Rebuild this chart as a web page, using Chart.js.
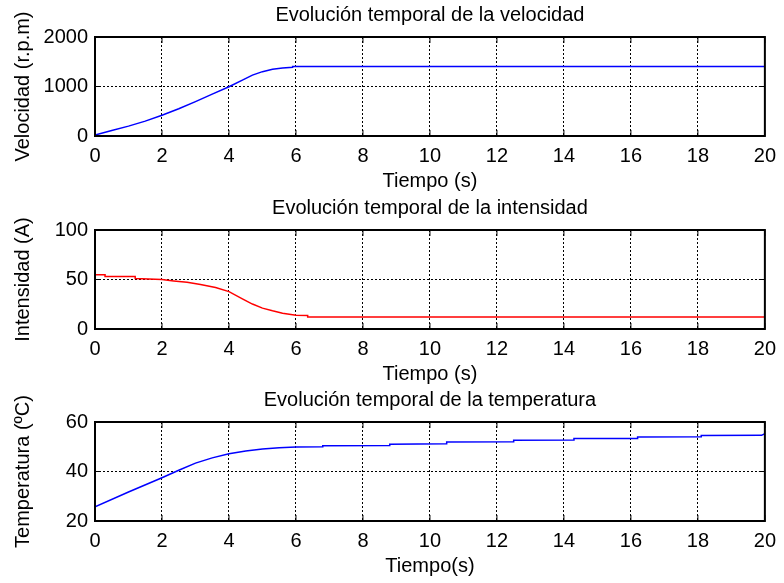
<!DOCTYPE html>
<html lang="es">
<head>
    <meta charset="UTF-8">
    <title>Evolución temporal</title>
    <script src="https://cdn.jsdelivr.net/npm/chart.js"></script>
    <style>
        body { margin: 0; background: #fff; }
        .plot { position: absolute; left: 0; }
    </style>
</head>
<body>
    <canvas id="velChart" class="plot" width="784" height="193" style="top:0px"></canvas>
    <canvas id="intChart" class="plot" width="784" height="193" style="top:193px"></canvas>
    <canvas id="tempChart" class="plot" width="784" height="193" style="top:385px"></canvas>

    <script>
        // Velocidad (r.p.m)
        const velTime   = [0, 0.5, 1, 1.5, 2, 2.5, 3, 3.5, 4, 4.4, 4.7, 5, 5.3, 5.6, 5.9, 5.9, 20];
        const velValues = [20, 110, 200, 300, 420, 550, 695, 845, 995, 1130, 1230, 1300, 1347, 1375, 1390, 1405, 1405];

        // Intensidad (A)
        const intTime   = [0, 0.3, 0.3, 1.2, 1.2, 2, 2.35, 2.75, 3.15, 3.6, 4, 4.4, 4.7, 5, 5.3, 5.6, 6, 6.35, 6.35, 20];
        const intValues = [54.8, 54.8, 53, 53, 51, 50, 48.6, 47.3, 45, 42, 37.8, 30.5, 25.2, 21.1, 18.4, 16, 14, 13.6, 12.2, 12.2];

        // Temperatura (ºC)
        const tempTime   = [0, 1, 2, 2.5, 3, 3.5, 4, 4.5, 5, 5.5, 6, 6.8, 6.8, 8.8, 8.8, 10.5, 10.5, 12.5, 12.5, 14.3, 14.3, 16.2, 16.2, 18.1, 18.1, 19.9, 20];
        const tempValues = [25.7, 31.7, 37.5, 40.5, 43.4, 45.5, 47.2, 48.3, 49.1, 49.6, 49.9, 50.0, 50.4, 50.5, 51.0, 51.2, 51.9, 52.0, 52.6, 52.7, 53.3, 53.3, 53.9, 54.0, 54.5, 54.6, 55.3];

        const font = { family: '"Liberation Sans", Arial, sans-serif', size: 20, weight: 'normal' };

        // frame with inward ticks, like the original figure
        const axesBox = {
            id: 'axesBox',
            afterDraw(chart) {
                const { ctx, chartArea: a, scales } = chart;
                ctx.save();
                ctx.strokeStyle = '#000';
                ctx.setLineDash([]);
                ctx.lineWidth = 1;
                ctx.beginPath();
                scales.x.ticks.forEach(t => {
                    const px = scales.x.getPixelForValue(t.value);
                    ctx.moveTo(px, a.bottom); ctx.lineTo(px, a.bottom - 6);
                    ctx.moveTo(px, a.top); ctx.lineTo(px, a.top + 6);
                });
                scales.y.ticks.forEach(t => {
                    const py = scales.y.getPixelForValue(t.value);
                    ctx.moveTo(a.left, py); ctx.lineTo(a.left + 6, py);
                    ctx.moveTo(a.right, py); ctx.lineTo(a.right - 6, py);
                });
                ctx.stroke();
                ctx.lineWidth = 2;
                ctx.strokeRect(a.left, a.top, a.width, a.height);
                ctx.restore();
            }
        };

        function makeChart(id, title, yTitle, xTitle, times, values, color, yMin, yMax, yStep) {
            const points = times.map((t, i) => ({ x: t, y: values[i] }));
            return new Chart(document.getElementById(id), {
                type: 'line',
                data: {
                    datasets: [{
                        data: points,
                        borderColor: color,
                        borderWidth: 1.5,
                        pointRadius: 0,
                        tension: 0
                    }]
                },
                options: {
                    responsive: false,
                    animation: false,
                    layout: { padding: { left: 0, right: 16, top: 0, bottom: 0 } },
                    plugins: {
                        legend: { display: false },
                        tooltip: { enabled: false },
                        title: {
                            display: true,
                            text: title,
                            color: '#000',
                            font: font,
                            fullSize: false,
                            padding: { top: 3.5, bottom: 9.5 }
                        }
                    },
                    scales: {
                        x: {
                            type: 'linear',
                            min: 0,
                            max: 20,
                            afterFit: s => { s.height = 57; },
                            ticks: { stepSize: 2, autoSkip: false, maxRotation: 0, padding: 8, color: '#000', font: font,
                                     callback: v => String(v) },
                            grid: { color: '#000', lineWidth: 1, drawTicks: false },
                            border: { display: false, dash: [2, 2] },
                            title: { display: true, text: xTitle, color: '#000', font: font, padding: { top: 2, bottom: 0 } }
                        },
                        y: {
                            min: yMin,
                            max: yMax,
                            afterFit: s => { s.width = 95; },
                            ticks: { stepSize: yStep, padding: 7, color: '#000', font: font,
                                     callback: v => String(v) },
                            grid: { color: '#000', lineWidth: 1, drawTicks: false },
                            border: { display: false, dash: [2, 2] },
                            title: { display: true, text: yTitle, color: '#000', font: font, padding: { top: 11, bottom: 0 } }
                        }
                    }
                },
                plugins: [axesBox]
            });
        }

        makeChart('velChart', 'Evolución temporal de la velocidad', 'Velocidad (r.p.m)', 'Tiempo (s)',
            velTime, velValues, '#0000ff', 0, 2000, 1000);
        makeChart('intChart', 'Evolución temporal de la intensidad', 'Intensidad (A)', 'Tiempo (s)',
            intTime, intValues, '#ff0000', 0, 100, 50);
        makeChart('tempChart', 'Evolución temporal de la temperatura', 'Temperatura (ºC)', 'Tiempo(s)',
            tempTime, tempValues, '#0000ff', 20, 60, 20);
    </script>
</body>
</html>
